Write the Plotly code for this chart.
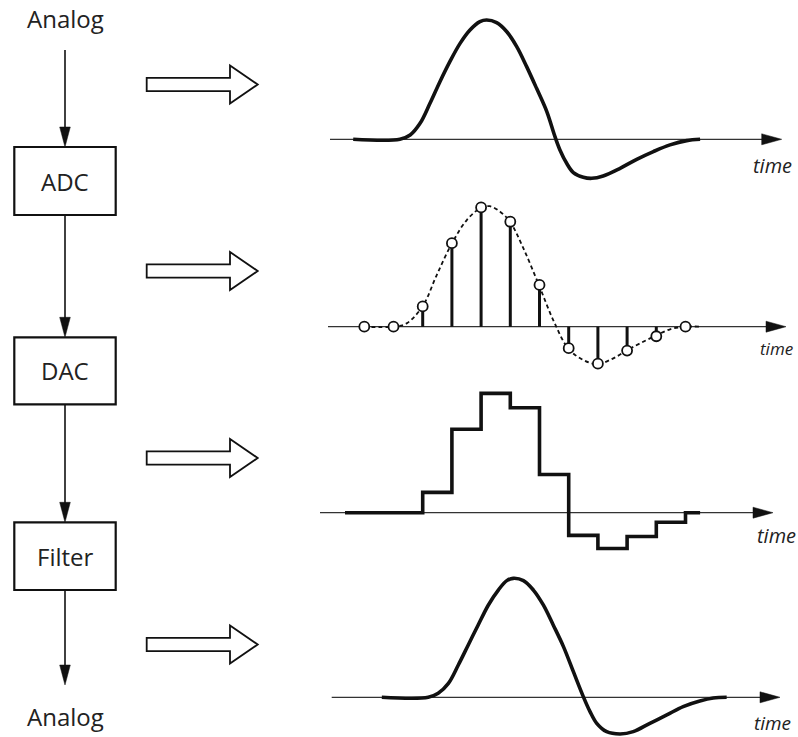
import plotly.graph_objects as go

# ---------------- data (time in sample periods, amplitude normalised to peak) -------------
ANALOG_IN_T = [-0.38, 1.22, 1.57, 1.91, 2.25, 2.59, 2.93, 3.28, 3.62, 3.96, 4.19, 4.53, 4.88,
               5.22, 5.56, 5.90, 6.25, 6.53, 6.70, 6.93, 7.16, 7.50, 7.79, 8.18, 8.76, 9.33,
               9.90, 10.47, 11.04, 11.50]
ANALOG_IN_V = [0.0, 0.0, 0.036, 0.134, 0.302, 0.483, 0.651, 0.804, 0.916, 0.986, 1.0, 0.978,
               0.902, 0.777, 0.609, 0.427, 0.232, 0.022, -0.089, -0.201, -0.279, -0.318, -0.327,
               -0.307, -0.243, -0.168, -0.103, -0.047, -0.011, 0.0]

SAMPLE_T = [0, 1, 2, 3, 4, 5, 6, 7, 8, 9, 10, 11]
SAMPLE_V = [0.0, 0.0, 0.17, 0.70, 1.00, 0.88, 0.35, -0.18, -0.31, -0.20, -0.08, 0.0]

DASHED_T = [0.0, 1.0, 1.45, 2.0, 2.48, 3.0, 3.51, 4.0, 4.3, 4.65, 4.99, 5.45, 5.98, 6.47,
            6.99, 7.5, 7.98, 8.53, 8.99, 9.44, 9.98, 10.47, 10.98, 11.5]
DASHED_V = [0.0, 0.0, 0.028, 0.173, 0.433, 0.698, 0.894, 0.997, 1.01, 0.964, 0.88, 0.656,
            0.349, 0.056, -0.184, -0.279, -0.313, -0.265, -0.198, -0.14, -0.075, -0.022, 0.0, 0.0]

DAC_T = [-0.66, 2, 3, 4, 5, 6, 7, 8, 9, 10, 11, 11.5]
DAC_V = [0.0, 0.17, 0.70, 1.00, 0.88, 0.32, -0.19, -0.30, -0.20, -0.08, 0.0, 0.0]

ANALOG_OUT_T = [0.60, 2.19, 2.53, 2.88, 3.22, 3.56, 3.90, 4.25, 4.59, 4.88, 5.10, 5.45, 5.79,
                6.13, 6.47, 6.82, 7.16, 7.50, 7.73, 7.96, 8.30, 8.76, 9.21, 9.78, 10.36,
                10.92, 11.49, 11.95, 12.41]
ANALOG_OUT_V = [0.0, 0.0, 0.034, 0.117, 0.271, 0.439, 0.606, 0.774, 0.899, 0.978, 0.997,
                0.978, 0.899, 0.774, 0.606, 0.425, 0.215, 0.006, -0.12, -0.218, -0.288,
                -0.307, -0.288, -0.218, -0.148, -0.078, -0.031, -0.006, 0.0]

IO_LABELS = ["Analog", "Analog"]
BLOCK_LABELS = ["ADC", "DAC", "Filter"]
AXIS_LABEL = "time"

# ---------------- layout geometry (pixels) -------------------------------------------------
W, H = 798, 737
T0_PX = 364.3          # pixel x of t = 0
PX_PER_T = 29.2
PX_PER_V = 119.3
X_DOM_PX = (319.2, 798.0)
PANEL_AXIS_PX = [139.3, 326.7, 512.7, 697.3]
PANEL_V_RANGE = [(-0.42, 1.08), (-0.42, 1.08), (-0.42, 1.08), (-0.33, 1.08)]
PANEL_AXIS_X_PX = [(330, 781.7), (328, 786), (320, 773), (331.7, 780)]
PANEL_LABEL_PX = [(772, 166, 20), (776.5, 349, 17), (776, 535, 20), (772.5, 723, 19)]

INK = "#111111"
FONT = "Open Sans"


def P(x, y):
    return x / W, 1 - y / H


def poly(points):
    s = ""
    for i, (x, y) in enumerate(points):
        px, py = P(x, y)
        s += ("M" if i == 0 else "L") + f"{px:.5f},{py:.5f} "
    return s + "Z"


fig = go.Figure()

x_range = [(X_DOM_PX[0] - T0_PX) / PX_PER_T, (X_DOM_PX[1] - T0_PX) / PX_PER_T]
layout = dict(width=W, height=H, margin=dict(l=0, r=0, t=0, b=0),
              paper_bgcolor="white", plot_bgcolor="rgba(0,0,0,0)", showlegend=False)
for i in range(4):
    ax_px = PANEL_AXIS_PX[i]
    lo, hi = PANEL_V_RANGE[i]
    bottom_px = ax_px - lo * PX_PER_V
    top_px = ax_px - hi * PX_PER_V
    sfx = "" if i == 0 else str(i + 1)
    layout["xaxis" + sfx] = dict(domain=[X_DOM_PX[0] / W, X_DOM_PX[1] / W], range=x_range,
                                 visible=False, anchor="y" + sfx)
    layout["yaxis" + sfx] = dict(domain=[1 - bottom_px / H, 1 - top_px / H], range=[lo, hi],
                                 visible=False, anchor="x" + sfx)
fig.update_layout(**layout)

# ---------------- traces ---------------------------------------------------------------
thick = dict(color=INK, width=3.6)
fig.add_trace(go.Scatter(x=ANALOG_IN_T, y=ANALOG_IN_V, mode="lines",
                         line=dict(shape="spline", smoothing=1.0, **thick),
                         xaxis="x", yaxis="y", hoverinfo="skip"))

fig.add_trace(go.Scatter(x=DASHED_T, y=DASHED_V, mode="lines",
                         line=dict(shape="spline", smoothing=1.0, color=INK, width=1.8,
                                   dash="4px,3px"),
                         xaxis="x2", yaxis="y2", hoverinfo="skip"))
stem_x, stem_y = [], []
for t, v in zip(SAMPLE_T, SAMPLE_V):
    stem_x += [t, t, None]
    stem_y += [0, v, None]
fig.add_trace(go.Scatter(x=stem_x, y=stem_y, mode="lines", line=dict(color=INK, width=3),
                         xaxis="x2", yaxis="y2", hoverinfo="skip"))
fig.add_trace(go.Scatter(x=SAMPLE_T, y=SAMPLE_V, mode="markers",
                         marker=dict(size=10, color="white", line=dict(color=INK, width=1.8)),
                         xaxis="x2", yaxis="y2", hoverinfo="skip"))

fig.add_trace(go.Scatter(x=DAC_T, y=DAC_V, mode="lines",
                         line=dict(shape="hv", **thick),
                         xaxis="x3", yaxis="y3", hoverinfo="skip"))

fig.add_trace(go.Scatter(x=ANALOG_OUT_T, y=ANALOG_OUT_V, mode="lines",
                         line=dict(shape="spline", smoothing=1.0, **thick),
                         xaxis="x4", yaxis="y4", hoverinfo="skip"))

# ---------------- decorations ------------------------------------------------------------
shapes, annotations = [], []

# time axes with arrowheads
for i in range(4):
    y = PANEL_AXIS_PX[i]
    x0, tip = PANEL_AXIS_X_PX[i]
    a, b = P(x0, y)
    c, _ = P(tip - 16, y)
    shapes.append(dict(type="line", xref="paper", yref="paper", x0=a, y0=b, x1=c, y1=b,
                       line=dict(color="#333333", width=1.3), layer="below"))
    shapes.append(dict(type="path", xref="paper", yref="paper",
                       path=poly([(tip, y), (tip - 20, y - 5.5), (tip - 20, y + 5.5)]),
                       fillcolor=INK, line=dict(color=INK, width=0.5)))
    lx, ly, fs = PANEL_LABEL_PX[i]
    qx, qy = P(lx, ly)
    annotations.append(dict(text="<i>" + AXIS_LABEL + "</i>", x=qx, y=qy, xref="paper",
                            yref="paper", showarrow=False, xanchor="center", yanchor="middle",
                            font=dict(family=FONT, size=fs, color="#222222")))

# hollow arrows
for cy in [84.5, 271, 458, 644.5]:
    pts = [(146.7, cy - 6.7), (230, cy - 6.7), (230, cy - 19), (257.7, cy),
           (230, cy + 19), (230, cy + 6.7), (146.7, cy + 6.7)]
    shapes.append(dict(type="path", xref="paper", yref="paper", path=poly(pts),
                       fillcolor="white", line=dict(color=INK, width=1.8)))

# block diagram
COL_X = 65
BOX_X = (14.3, 115.7)
BOX_Y = [(147, 215), (337.3, 404.3), (522.3, 590)]
CONNECT = [(50, 147), (215, 337.3), (404.3, 522.3), (590, 685)]
for (y0, y1) in CONNECT:
    a, b = P(COL_X, y0)
    _, d = P(COL_X, y1 - 15)
    shapes.append(dict(type="line", xref="paper", yref="paper", x0=a, y0=b, x1=a, y1=d,
                       line=dict(color=INK, width=1.6)))
    shapes.append(dict(type="path", xref="paper", yref="paper",
                       path=poly([(COL_X, y1), (COL_X - 5.3, y1 - 20), (COL_X + 5.3, y1 - 20)]),
                       fillcolor=INK, line=dict(color=INK, width=0.5)))
for (y0, y1), label in zip(BOX_Y, BLOCK_LABELS):
    a, b = P(BOX_X[0], y0)
    c, d = P(BOX_X[1], y1)
    shapes.append(dict(type="rect", xref="paper", yref="paper", x0=a, y0=d, x1=c, y1=b,
                       fillcolor="white", line=dict(color=INK, width=2.2)))
    qx, qy = P(COL_X, (y0 + y1) / 2)
    annotations.append(dict(text=label, x=qx, y=qy, xref="paper", yref="paper",
                            showarrow=False, xanchor="center", yanchor="middle",
                            font=dict(family=FONT, size=24, color="#222222")))
for label, ly in zip(IO_LABELS, [18, 716]):
    qx, qy = P(COL_X, ly)
    annotations.append(dict(text=label, x=qx, y=qy, xref="paper", yref="paper",
                            showarrow=False, xanchor="center", yanchor="middle",
                            font=dict(family=FONT, size=24, color="#222222")))

fig.update_layout(shapes=shapes, annotations=annotations)
fig.write_html("out.html", config={"displayModeBar": False},
               post_script="document.body.style.margin='0px';"
                           "document.body.style.overflow='hidden';")
